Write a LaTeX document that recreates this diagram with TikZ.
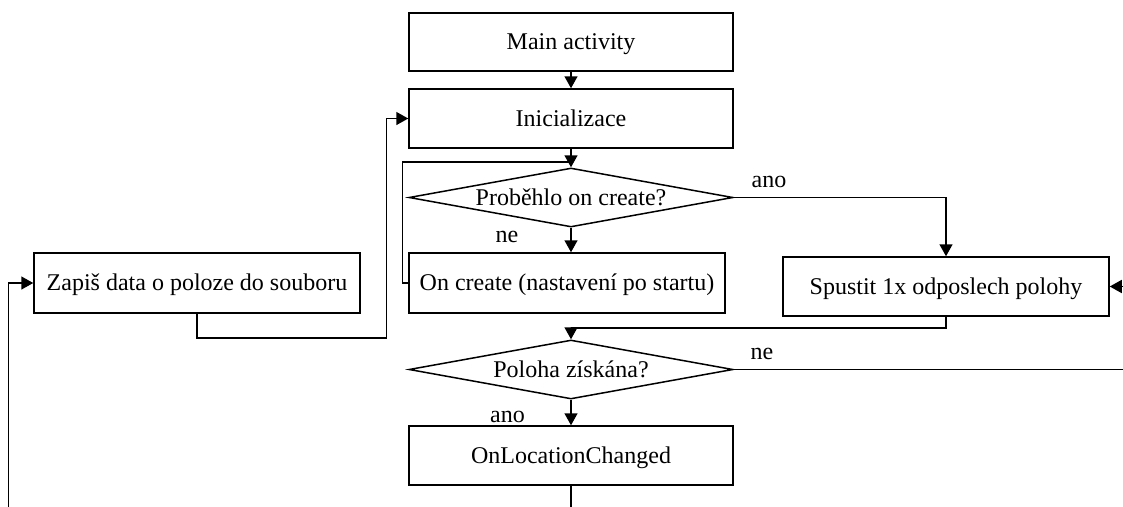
\documentclass[tikz,border=0pt]{standalone}
\usepackage{fontspec}
\setmainfont{Liberation Serif}
\usetikzlibrary{arrows.meta,shapes.geometric}

\tikzset{
  every node/.style={font=\fontsize{24}{28}\selectfont},
  box/.style={draw, line width=1.5pt, rectangle, inner sep=0pt,
              text height=15.8pt, text depth=0pt},
  decision/.style={draw, line width=1.5pt, diamond, aspect=5.49, inner sep=0pt,
                   minimum width=324pt, minimum height=59pt,
                   text height=15.8pt, text depth=0pt},
  flow/.style={line width=1.5pt},
  arrow/.style={flow, -{Triangle[length=12pt,width=13pt]}},
  lbl/.style={anchor=base, inner sep=0pt}
}

\begin{document}
\begin{tikzpicture}[x=1pt, y=-1pt]
  \clip (0,0) rectangle (1123,506);
  \useasboundingbox (0,0) rectangle (1123,506);

  % process steps
  \node[box, minimum width=324pt, minimum height=58pt] (main) at (571,42) {Main activity};
  \node[box, minimum width=324pt, minimum height=59pt] (init) at (571,118.5) {Inicializace};
  \node[decision] (d1) at (571,197.5) {Proběhlo on create?};
  \node[box, minimum width=316pt, minimum height=60pt] (onc) at (567,283) {On create (nastavení po startu)};
  \node[box, minimum width=326pt, minimum height=60pt] (zap) at (197,283) {Zapiš data o poloze do souboru};
  \node[box, minimum width=326pt, minimum height=59pt] (spu) at (946,286.5) {Spustit 1x odposlech polohy};
  \node[decision] (d2) at (571,369.5) {Poloha získána?};
  \node[box, minimum width=324pt, minimum height=59pt] (onl) at (571,455.5) {OnLocationChanged};

  % joints and free ends of the loops
  \coordinate (j1) at (571,162);
  \coordinate (j2) at (571,328);
  \coordinate (c1) at (1130,369.5);
  \coordinate (c3) at (8.5,520);
  \coordinate (c4) at (386.5,338);

  % main flow
  \draw[arrow] (main) -- (init);
  \draw[arrow] (init) -- (d1);
  \draw[arrow] (d1.south) -- (d1.south |- onc.north);
  \draw[flow] (onc.west) -- ++(-6,0) |- (j1);
  \draw[arrow] (d1.east) -| (spu.north);
  \draw[arrow] (spu.south) |- (j2) -- (d2.north);
  \draw[arrow] (d2.east) -- (c1) |- (spu.east);
  \draw[arrow] (d2) -- (onl);
  \draw[arrow] (onl.south) |- (c3) |- (zap.west);
  \draw[arrow] (zap.south) |- (c4) |- (init.west);

  % branch labels
  \node[lbl] (l1) at (769,187) {ano};
  \node[lbl] (l2) at (507,242) {ne};
  \node[lbl] (l3) at (762,359) {ne};
  \node[lbl] (l4) at (507.5,422) {ano};
\end{tikzpicture}
\end{document}
